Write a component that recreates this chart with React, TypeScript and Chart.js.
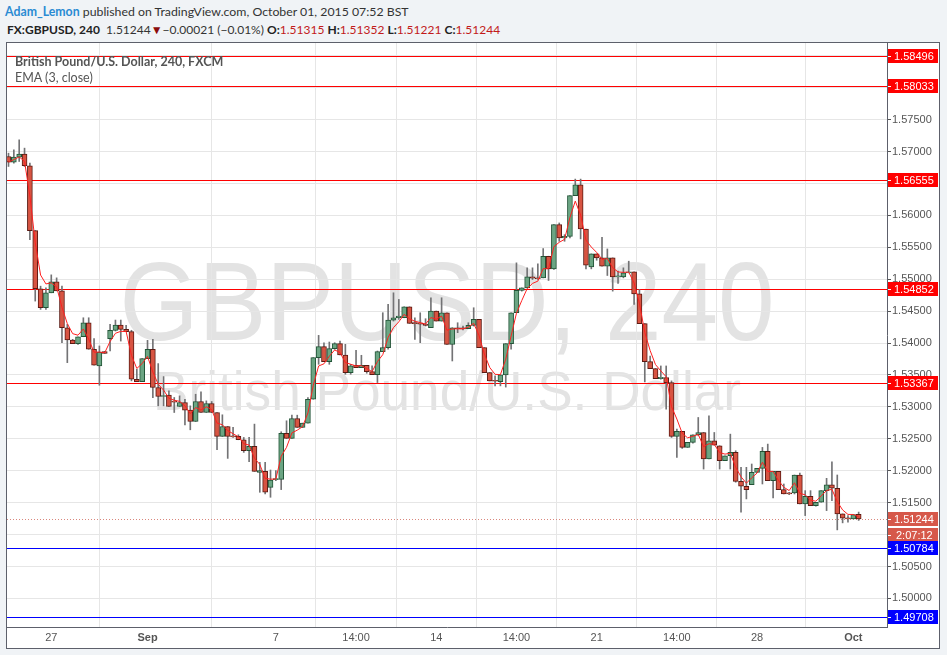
import React, { useEffect, useRef } from "react";
import { Chart, registerables } from "chart.js";
Chart.register(...registerables);

// ---- data (4h candles, index 0 = first visible bar) ----
const opens = [
  1.56922, 1.56834, 1.56912, 1.56959, 1.56777, 1.55761, 1.5485, 1.54553, 1.54787, 1.54959,
  1.54818, 1.5424, 1.54047, 1.5399, 1.54099, 1.54318, 1.53902, 1.53641, 1.53866, 1.54068,
  1.54198, 1.54282, 1.54214, 1.54178, 1.53433, 1.53396, 1.53756, 1.53902, 1.53303, 1.53162,
  1.53183, 1.53079, 1.53006, 1.53068, 1.52948, 1.52771, 1.53084, 1.52912, 1.53053, 1.52912,
  1.52537, 1.52693, 1.52537, 1.52537, 1.52485, 1.52313, 1.52381, 1.51975, 1.5199, 1.5174,
  1.5186, 1.51865, 1.52584, 1.52506, 1.52818, 1.52678, 1.52745, 1.5312, 1.53771, 1.53943,
  1.53709, 1.53912, 1.5399, 1.53813, 1.53537, 1.53651, 1.53615, 1.53651, 1.53553, 1.53506,
  1.53865, 1.53928, 1.5436, 1.54396, 1.54396, 1.54568, 1.54308, 1.54308, 1.54297, 1.5424,
  1.54501, 1.54344, 1.54474, 1.5398, 1.5424, 1.54224, 1.54224, 1.54276, 1.5437, 1.53928,
  1.53537, 1.53407, 1.53396, 1.53501, 1.5399, 1.54475, 1.54824, 1.54865, 1.55037, 1.55021,
  1.55021, 1.5536, 1.55162, 1.55855, 1.55646, 1.55672, 1.56308, 1.5648, 1.55787, 1.55193,
  1.55396, 1.55334, 1.55204, 1.55334, 1.55037, 1.55037, 1.551, 1.55115, 1.54771, 1.54303,
  1.53709, 1.536, 1.53443, 1.53459, 1.5338, 1.52537, 1.52615, 1.52365, 1.52443, 1.52563,
  1.52599, 1.52183, 1.52469, 1.52391, 1.52157, 1.52235, 1.52287, 1.51834, 1.51756, 1.51782,
  1.51974, 1.52037, 1.52303, 1.51844, 1.5199, 1.51704, 1.51652, 1.51652, 1.51933, 1.5148,
  1.516, 1.51454, 1.51506, 1.51688, 1.51777, 1.51725, 1.51323, 1.51261, 1.51245, 1.51315,
];
const highs = [
  1.56974, 1.57027, 1.57183, 1.57053, 1.56818, 1.55761, 1.54891, 1.54865, 1.55068, 1.55021,
  1.54891, 1.54292, 1.54058, 1.54099, 1.54396, 1.54396, 1.54068, 1.53954, 1.53866, 1.54292,
  1.5436, 1.5436, 1.54276, 1.542, 1.53589, 1.53756, 1.54042, 1.54058, 1.53678, 1.53475,
  1.53251, 1.53147, 1.53173, 1.5312, 1.53016, 1.53198, 1.53235, 1.53094, 1.53084, 1.52912,
  1.52876, 1.52693, 1.52678, 1.52563, 1.52521, 1.52521, 1.5273, 1.52131, 1.52131, 1.52011,
  1.52001, 1.5261, 1.52782, 1.5287, 1.5287, 1.52745, 1.53146, 1.53771, 1.5412, 1.54005,
  1.54016, 1.54005, 1.54032, 1.5398, 1.53667, 1.53886, 1.53808, 1.53651, 1.53641, 1.53875,
  1.54475, 1.54605, 1.54787, 1.54683, 1.54568, 1.54568, 1.54396, 1.54474, 1.54381, 1.54709,
  1.54501, 1.54709, 1.54474, 1.5424, 1.54318, 1.54266, 1.54318, 1.54553, 1.5437, 1.53928,
  1.53537, 1.53485, 1.53501, 1.5399, 1.54475, 1.55256, 1.54865, 1.55178, 1.55178, 1.5524,
  1.5548, 1.5536, 1.55855, 1.55881, 1.55698, 1.56308, 1.56568, 1.56568, 1.55787, 1.55396,
  1.55396, 1.55657, 1.55474, 1.55334, 1.55126, 1.55178, 1.55282, 1.55115, 1.54839, 1.54303,
  1.53797, 1.536, 1.53641, 1.53641, 1.53407, 1.52651, 1.52615, 1.52443, 1.52563, 1.52834,
  1.52599, 1.5286, 1.52599, 1.52391, 1.52235, 1.52573, 1.52313, 1.52053, 1.52053, 1.52105,
  1.52037, 1.52365, 1.52417, 1.5199, 1.5199, 1.51792, 1.51662, 1.51933, 1.51964, 1.51688,
  1.51688, 1.51506, 1.51688, 1.51881, 1.52141, 1.51933, 1.51323, 1.51297, 1.51313, 1.51352,
];
const lows = [
  1.56766, 1.56818, 1.56844, 1.56766, 1.5562, 1.54657, 1.54527, 1.54527, 1.54787, 1.54818,
  1.54006, 1.53693, 1.5399, 1.5398, 1.54099, 1.53902, 1.53652, 1.53339, 1.53839, 1.53876,
  1.54188, 1.54031, 1.54177, 1.53407, 1.53396, 1.53396, 1.53756, 1.53146, 1.53016, 1.53016,
  1.53006, 1.52912, 1.53006, 1.52719, 1.52641, 1.52771, 1.52912, 1.52912, 1.52912, 1.52329,
  1.52537, 1.52193, 1.52521, 1.52485, 1.52287, 1.52141, 1.5199, 1.51662, 1.51636, 1.51584,
  1.51844, 1.51704, 1.52506, 1.52506, 1.52678, 1.52678, 1.52745, 1.5312, 1.53667, 1.53709,
  1.53667, 1.53901, 1.53813, 1.53511, 1.53511, 1.53615, 1.53615, 1.53527, 1.53506, 1.53381,
  1.53865, 1.53902, 1.54344, 1.5437, 1.54396, 1.54308, 1.54058, 1.54006, 1.54266, 1.5424,
  1.54344, 1.54344, 1.5398, 1.53719, 1.54162, 1.54204, 1.54224, 1.54266, 1.53928, 1.53537,
  1.53407, 1.53329, 1.53329, 1.5331, 1.53902, 1.54475, 1.54813, 1.54865, 1.54995, 1.54995,
  1.55021, 1.5498, 1.55152, 1.55594, 1.55594, 1.55646, 1.56308, 1.55631, 1.55162, 1.55162,
  1.55297, 1.55204, 1.55058, 1.54813, 1.54933, 1.55021, 1.551, 1.54605, 1.54303, 1.53391,
  1.536, 1.53443, 1.53433, 1.52964, 1.52521, 1.52209, 1.52349, 1.52365, 1.52433, 1.52547,
  1.52026, 1.52183, 1.52401, 1.52026, 1.52157, 1.52026, 1.5182, 1.51349, 1.51558, 1.51782,
  1.51974, 1.51792, 1.51844, 1.51573, 1.51704, 1.51636, 1.51626, 1.51636, 1.5148, 1.51297,
  1.51454, 1.51444, 1.51506, 1.51375, 1.51532, 1.51073, 1.51183, 1.51193, 1.51245, 1.51221,
];
const closes = [
  1.56834, 1.56912, 1.56959, 1.56777, 1.55761, 1.5485, 1.54553, 1.54787, 1.54959, 1.54818,
  1.5424, 1.54047, 1.5399, 1.54099, 1.54318, 1.53902, 1.53652, 1.5386, 1.53839, 1.54198,
  1.54282, 1.54214, 1.54177, 1.53433, 1.53396, 1.53756, 1.53902, 1.53303, 1.53162, 1.53172,
  1.53006, 1.53074, 1.53068, 1.52948, 1.52771, 1.53084, 1.52912, 1.53053, 1.52912, 1.52537,
  1.52693, 1.52537, 1.5253, 1.52485, 1.52313, 1.52381, 1.5199, 1.52001, 1.51662, 1.51855,
  1.5187, 1.52584, 1.52506, 1.52818, 1.52678, 1.52745, 1.5312, 1.53771, 1.53943, 1.53709,
  1.53912, 1.5399, 1.53813, 1.53537, 1.53641, 1.53615, 1.53651, 1.53553, 1.53506, 1.53865,
  1.53928, 1.5436, 1.54396, 1.54422, 1.54568, 1.54308, 1.54303, 1.54297, 1.54277, 1.54501,
  1.54344, 1.54474, 1.5398, 1.5424, 1.54224, 1.54222, 1.54276, 1.5437, 1.53928, 1.53537,
  1.53407, 1.53402, 1.53501, 1.5399, 1.54475, 1.54824, 1.54865, 1.55037, 1.55016, 1.55006,
  1.5536, 1.55162, 1.55855, 1.55646, 1.55672, 1.56308, 1.5648, 1.55787, 1.55219, 1.55396,
  1.55334, 1.55204, 1.55334, 1.55037, 1.55048, 1.551, 1.55115, 1.54771, 1.54303, 1.53709,
  1.536, 1.53443, 1.53464, 1.5338, 1.52537, 1.52615, 1.52365, 1.52443, 1.52563, 1.52599,
  1.52183, 1.52469, 1.52401, 1.52157, 1.52235, 1.52287, 1.51834, 1.51756, 1.51704, 1.51974,
  1.52037, 1.52303, 1.51844, 1.5199, 1.51704, 1.51636, 1.51636, 1.51933, 1.5148, 1.516,
  1.51454, 1.51506, 1.51688, 1.51777, 1.51725, 1.51323, 1.51256, 1.51245, 1.51313, 1.51244,
];

const xTickIndex = [8, 26, 50, 65, 80, 95, 110, 125, 140, 158];
const xTickLabels = ["27", "Sep", "7", "14:00", "14", "14:00", "21", "14:00", "28", "Oct"];
const xBoldLabels = ["Sep", "Oct"];
const yTickValues = [
  1.5, 1.505, 1.51, 1.515, 1.52, 1.525, 1.53, 1.535, 1.54, 1.545,
  1.55, 1.555, 1.56, 1.565, 1.57, 1.575, 1.58, 1.585,
];
const levelValues = [1.58496, 1.58033, 1.56555, 1.54852, 1.53367, 1.50784, 1.49708];
const levelColors = ["#ff0000", "#ff0000", "#ff0000", "#ff0000", "#ff0000", "#0000ff", "#0000ff"];
const lastPrice = 1.51244;
const countdownText = "2:07:12";
const emaLength = 3;

const AXIS_FONT = '11px "Liberation Sans", Arial, sans-serif';

function emaOf(values: number[], len: number) {
  const a = 2 / (len + 1);
  const out: number[] = [];
  values.forEach((v, i) => out.push(i === 0 ? v : a * v + (1 - a) * out[i - 1]));
  return out;
}

export default function App() {
  const ref = useRef<HTMLCanvasElement | null>(null);
  useEffect(() => {
    if (!ref.current) return;
    const idx = opens.map((_, i) => i);
    const up = idx.map((i) => closes[i] >= opens[i]);
    const ema = emaOf(closes, emaLength);

    const overlay = {
      id: "overlay",
      beforeDraw(chart: any) {
        const { ctx, chartArea } = chart;
        ctx.save();
        ctx.beginPath();
        ctx.rect(chartArea.left, chartArea.top, chartArea.right - chartArea.left, chartArea.bottom - chartArea.top);
        ctx.clip();
        const cx = (chartArea.left + chartArea.right) / 2;
        ctx.fillStyle = "#e3e3e3";
        ctx.textAlign = "center";
        ctx.textBaseline = "alphabetic";
        ctx.font = '112px "Liberation Sans", Arial, sans-serif';
        let t = "GBPUSD, 240";
        let w = ctx.measureText(t).width;
        ctx.save();
        ctx.translate(cx, 340 - 43);
        ctx.scale(655 / w, 1);
        ctx.fillText(t, 0, 0);
        ctx.restore();
        ctx.font = '56px "Liberation Sans", Arial, sans-serif';
        t = "British Pound/U.S. Dollar";
        w = ctx.measureText(t).width;
        ctx.save();
        ctx.translate(cx, 410 - 43);
        ctx.scale(588 / w, 1);
        ctx.fillText(t, 0, 0);
        ctx.restore();
        ctx.restore();
      },
      beforeDatasetsDraw(chart: any) {
        const { ctx, chartArea, scales } = chart;
        const y = scales.y;
        ctx.save();
        levelValues.forEach((v, i) => {
          const py = Math.round(y.getPixelForValue(v)) + 0.5;
          ctx.strokeStyle = levelColors[i];
          ctx.lineWidth = 1;
          ctx.beginPath();
          ctx.moveTo(chartArea.left, py);
          ctx.lineTo(chartArea.right, py);
          ctx.stroke();
        });
        const lp = Math.round(y.getPixelForValue(lastPrice)) + 0.5;
        ctx.strokeStyle = "#d9877d";
        ctx.setLineDash([1, 2]);
        ctx.beginPath();
        ctx.moveTo(chartArea.left, lp);
        ctx.lineTo(chartArea.right, lp);
        ctx.stroke();
        ctx.restore();
      },
      afterDraw(chart: any) {
        const { ctx, chartArea, scales } = chart;
        const y = scales.y;
        const bx = chartArea.right + 1;
        const box = (py: number, bg: string, text: string, textX: number) => {
          const r = Math.round(py);
          ctx.fillStyle = bg;
          ctx.fillRect(bx, r - 7, 50, 14);
          ctx.strokeStyle = "#ffffff";
          ctx.lineWidth = 1;
          ctx.beginPath();
          ctx.moveTo(bx, r + 0.5);
          ctx.lineTo(bx + 3, r + 0.5);
          ctx.stroke();
          ctx.fillStyle = "#ffffff";
          ctx.font = AXIS_FONT;
          ctx.textAlign = "left";
          ctx.textBaseline = "middle";
          ctx.fillText(text, textX, r + 1);
        };
        ctx.save();
        const lpY = y.getPixelForValue(lastPrice);
        box(lpY, "#d6584a", lastPrice.toFixed(5), bx + 6);
        box(lpY + 16, "#d6584a", countdownText, bx + 8);
        levelValues.forEach((v, i) => {
          box(y.getPixelForValue(v), levelColors[i], v.toFixed(5), bx + 6);
        });
        ctx.restore();
      },
    };

    const chart = new Chart(ref.current, {
      type: "bar",
      data: {
        datasets: [
          {
            type: "line",
            data: idx.map((i) => ({ x: i, y: ema[i] })),
            borderColor: "#ff2020",
            borderWidth: 1,
            pointRadius: 0,
            order: 1,
          } as any,
          {
            type: "bar",
            data: idx.map((i) => ({ x: i, y: [opens[i], closes[i]] })),
            backgroundColor: up.map((u) => (u ? "#6ba583" : "#d75442")),
            borderColor: up.map((u) => (u ? "#225437" : "#5b1a13")),
            borderWidth: 1,
            borderSkipped: false,
            barThickness: 5,
            minBarLength: 1,
            grouped: false,
            order: 2,
          } as any,
          {
            type: "bar",
            data: idx.map((i) => ({ x: i, y: [lows[i], highs[i]] })),
            backgroundColor: "#737375",
            barThickness: 1,
            grouped: false,
            order: 3,
          } as any,
        ],
      },
      options: {
        responsive: false,
        animation: false,
        devicePixelRatio: 1,
        layout: { padding: 0 },
        plugins: { legend: { display: false }, tooltip: { enabled: false } },
        scales: {
          x: {
            type: "linear",
            offset: false,
            min: -0.28,
            max: 164.3,
            grid: { color: "#e6e6e6", drawTicks: false },
            border: { display: true, color: "#5d606b", width: 1 },
            afterBuildTicks: (s: any) => {
              s.ticks = xTickIndex.map((v) => ({ value: v }));
            },
            afterFit: (s: any) => {
              s.height = 21;
              s.paddingLeft = 0;
              s.paddingRight = 0;
            },
            ticks: {
              autoSkip: false,
              maxRotation: 0,
              padding: 4,
              color: "#555555",
              font: (c: any) => {
                const lbl = xTickLabels[xTickIndex.indexOf(c.tick?.value)];
                return {
                  family: '"Liberation Sans", Arial, sans-serif',
                  size: 11,
                  weight: xBoldLabels.includes(lbl) ? "bold" : "normal",
                };
              },
              callback: (v: any) => xTickLabels[xTickIndex.indexOf(v)] ?? "",
            },
          },
          y: {
            type: "linear",
            position: "right",
            min: 1.495518,
            max: 1.587,
            grid: { color: "#e6e6e6", tickColor: "#555555", tickLength: 4 },
            border: { display: true, color: "#5d606b", width: 1 },
            afterBuildTicks: (s: any) => {
              s.ticks = yTickValues.map((v) => ({ value: v }));
            },
            afterFit: (s: any) => {
              s.width = 52;
              s.paddingTop = 0;
              s.paddingBottom = 0;
            },
            ticks: {
              padding: 1,
              color: "#555555",
              font: { family: '"Liberation Sans", Arial, sans-serif', size: 11 },
              callback: (v: any) => Number(v).toFixed(5),
            },
          },
        },
      } as any,
      plugins: [overlay],
    });
    return () => chart.destroy();
  }, []);

  const hdr: React.CSSProperties = {
    position: "absolute",
    left: 5,
    whiteSpace: "pre",
    fontFamily: 'Lato, "Open Sans", sans-serif',
    fontSize: 12,
    color: "#333",
    lineHeight: "16px",
  };
  const red = { color: "#c21a1a" };
  const b = { fontWeight: 700, color: "#222" };
  return (
    <div style={{ position: "fixed", left: 0, top: 0, width: 947, height: 655, background: "#f0f3f6", overflow: "hidden" }}>
      <div style={{ ...hdr, top: 4, fontSize: 12.3 }}>
        <span style={{ color: "#2a8bd3", fontWeight: 700 }}>Adam_Lemon</span>
        {" published on TradingView.com, October 01, 2015 07:52 BST"}
      </div>
      <div style={{ ...hdr, top: 22, left: 7 }}>
        <span style={b}>FX:GBPUSD, 240</span>
        {"  1.51244"}
        <span style={{ color: "#8b0c0c" }}>▼</span>
        {"−0.00021 (−0.01%) "}
        <span style={b}>O:</span>
        <span style={red}>1.51315</span> <span style={b}>H:</span>
        <span style={red}>1.51352</span> <span style={b}>L:</span>
        <span style={red}>1.51221</span> <span style={b}>C:</span>
        <span style={red}>1.51244</span>
      </div>
      <div
        style={{
          position: "absolute",
          left: 6,
          top: 42,
          width: 932,
          height: 605,
          border: "1px solid #5d606b",
          background: "#ffffff",
        }}
      >
        <canvas ref={ref} width={932} height={605} style={{ display: "block" }} />
        <div
          style={{
            position: "absolute",
            left: 8,
            top: 11,
            fontFamily: 'Lato, "Open Sans", sans-serif',
            fontSize: 12.5,
            color: "#555",
            lineHeight: "16px",
            whiteSpace: "pre",
          }}
        >
          <div style={{ fontWeight: 700 }}>British Pound/U.S. Dollar, 240, FXCM</div>
          <div>EMA (3, close)</div>
        </div>
      </div>
    </div>
  );
}
